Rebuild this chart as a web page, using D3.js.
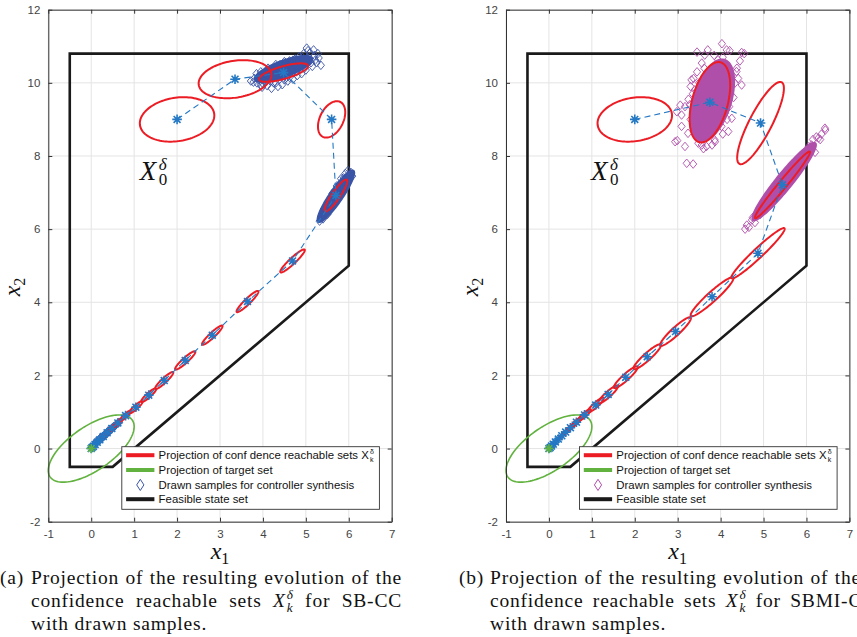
<!DOCTYPE html>
<html>
<head>
<meta charset="utf-8">
<script src="https://cdn.jsdelivr.net/npm/d3@7"></script>
<style>
  body { margin: 0; background: #fff; }
  svg { display: block; }
</style>
</head>
<body>
<svg id="fig" width="857" height="637"></svg>
<script>
// ---------------- data ----------------
const xTicks = [-1, 0, 1, 2, 3, 4, 5, 6, 7];
const yTicks = [-2, 0, 2, 4, 6, 8, 10, 12];

// feasible state set (polygon vertices, x1/x2)
const feasibleSet = [[-0.5, 10.8], [6, 10.8], [6, 5], [0.5, -0.5], [-0.5, -0.5]];
// target set: centre x, centre y, semi-major, semi-minor, angle (deg)
const targetSet = [0, 0, 1.236, 0.564, 41.3];

// SB-CC: nominal states (ellipse centres) and ellipse shapes [semi-major, semi-minor, angle]
const sbccCenters = [
  [2.00, 9.00], [3.35, 10.10], [4.48, 10.28], [5.60, 9.00], [5.70, 6.92], [4.69, 5.13],
  [3.64, 4.02], [2.82, 3.10], [2.19, 2.41], [1.70, 1.86], [1.34, 1.46], [1.04, 1.13],
  [0.80, 0.90], [0.62, 0.70], [0.48, 0.55], [0.37, 0.43], [0.28, 0.33], [0.20, 0.24],
  [0.14, 0.17], [0.09, 0.11], [0.05, 0.06], [0.02, 0.03], [0.00, 0.00]
];
const sbccShapes = [
  [0.88, 0.59, 13], [0.86, 0.50, 12], [0.60, 0.17, 19], [0.52, 0.28, 70], [0.50, 0.10, 60],
  [0.42, 0.075, 48], [0.38, 0.07, 49], [0.35, 0.065, 48], [0.34, 0.065, 47], [0.31, 0.06, 48],
  [0.25, 0.055, 47], [0.22, 0.05, 47], [0.18, 0.045, 48], [0.15, 0.04, 48], [0.12, 0.035, 48],
  [0.10, 0.03, 48], [0.08, 0.03, 48], [0.07, 0.025, 48], [0.06, 0.02, 48], [0.05, 0.02, 48],
  [0.04, 0.02, 48], [0.03, 0.015, 48], [0.02, 0.01, 48]
];
// dense sample regions [cx, cy, a, b, angle]
const sbccCores = [[4.48, 10.38, 0.72, 0.21, 24], [5.70, 6.90, 0.80, 0.15, 60], [0.36, 0.40, 0.50, 0.05, 48]];
const sbccSamples = [
  [3.72, 10.05], [3.80, 10.12], [3.86, 10.00], [3.92, 10.18], [3.95, 9.95], [4.02, 10.08],
  [4.05, 10.25], [4.10, 9.92], [4.15, 10.30], [4.20, 9.85], [4.25, 10.00], [4.28, 10.42],
  [4.35, 9.90], [4.40, 10.50], [4.45, 9.95], [4.52, 10.55], [4.58, 10.05], [4.62, 10.60],
  [4.70, 10.10], [4.75, 10.65], [4.80, 10.20], [4.85, 10.72], [4.90, 10.25], [4.95, 10.80],
  [5.00, 10.35], [5.05, 10.88], [5.10, 10.60], [5.15, 10.45], [5.20, 10.75], [5.25, 10.55],
  [5.30, 10.68], [5.35, 10.48], [5.02, 10.95], [4.55, 10.15], [4.30, 10.20], [3.98, 9.88],
  [4.12, 10.40], [4.68, 10.38], [5.18, 10.90], [4.88, 10.50],
  [3.78, 10.02], [3.90, 10.08], [4.00, 9.98], [4.18, 10.05], [4.30, 10.00], [4.50, 10.08],
  [4.62, 10.15], [4.78, 10.30], [4.98, 10.42], [5.12, 10.55], [5.22, 10.62], [5.28, 10.80],
  [5.10, 10.82], [4.92, 10.70], [4.70, 10.62], [4.50, 10.58], [4.30, 10.50], [4.10, 10.35],
  [3.85, 10.25], [3.95, 10.30],
  [5.32, 6.22], [5.36, 6.35], [5.40, 6.28], [5.45, 6.45], [5.42, 6.55], [5.50, 6.40],
  [5.55, 6.62], [5.52, 6.75], [5.60, 6.58], [5.65, 6.85], [5.62, 6.98], [5.70, 6.75],
  [5.75, 7.05], [5.72, 7.18], [5.80, 6.95], [5.85, 7.25], [5.82, 7.38], [5.90, 7.15],
  [5.95, 7.42], [5.92, 7.52], [6.00, 7.35], [6.05, 7.55], [6.08, 7.45], [5.98, 7.60],
  [5.38, 6.40], [5.48, 6.60], [5.58, 6.80], [5.68, 7.02], [5.78, 7.22], [5.88, 7.40],
  [0.05, 0.08], [0.10, 0.15], [0.15, 0.20], [0.20, 0.27], [0.26, 0.33], [0.33, 0.40],
  [0.40, 0.47], [0.47, 0.55], [0.55, 0.62], [0.62, 0.70], [0.12, 0.20], [0.22, 0.30],
  [0.32, 0.38], [0.42, 0.52], [0.52, 0.60], [0.65, 0.72]
];

// SBMI-CC
const sbmiCenters = [
  [2.00, 9.00], [3.75, 9.47], [4.93, 8.90], [5.44, 7.21], [4.87, 5.34], [3.80, 4.15],
  [2.95, 3.20], [2.29, 2.51], [1.79, 1.95], [1.38, 1.48], [1.09, 1.19], [0.83, 0.92],
  [0.64, 0.72], [0.50, 0.57], [0.39, 0.45], [0.30, 0.35], [0.22, 0.26], [0.15, 0.18],
  [0.10, 0.12], [0.06, 0.07], [0.03, 0.03], [0.00, 0.00]
];
const sbmiShapes = [
  [0.88, 0.59, 13], [1.12, 0.42, 78], [1.22, 0.27, 66.6], [1.11, 0.10, 55], [0.92, 0.12, 48],
  [0.72, 0.12, 47], [0.52, 0.10, 47.7], [0.46, 0.09, 47], [0.40, 0.08, 47], [0.33, 0.07, 47],
  [0.27, 0.06, 47], [0.21, 0.05, 47], [0.17, 0.045, 47], [0.14, 0.04, 47], [0.11, 0.035, 47],
  [0.09, 0.03, 47], [0.07, 0.025, 47], [0.06, 0.02, 47], [0.05, 0.02, 47], [0.04, 0.02, 47],
  [0.03, 0.015, 47], [0.02, 0.01, 47]
];
const sbmiCores = [[3.80, 9.52, 1.14, 0.44, 76], [5.48, 7.30, 1.27, 0.19, 55.6]];
const sbmiSamples = [
  [4.03, 11.07], [4.14, 10.90], [4.21, 10.88], [4.49, 10.83], [4.55, 10.80], [3.45, 10.84],
  [3.63, 10.76], [3.56, 10.54], [3.94, 10.63], [4.38, 10.40], [4.41, 10.12], [4.37, 10.31],
  [4.33, 9.99], [4.49, 9.94], [3.37, 10.12], [3.32, 10.08], [3.40, 9.81], [3.35, 9.70],
  [3.17, 9.35], [3.06, 9.39], [3.09, 9.12], [2.98, 9.21], [3.09, 8.81], [3.24, 8.62],
  [2.94, 8.39], [2.99, 8.42], [3.17, 8.26], [3.21, 7.80], [3.36, 7.78], [3.48, 8.35],
  [3.56, 8.30], [3.67, 8.26], [3.87, 8.39], [3.86, 8.44], [4.02, 8.81], [4.10, 9.17],
  [4.18, 8.67], [4.26, 9.03], [4.30, 9.60], [4.25, 10.20], [3.30, 9.00], [3.25, 9.55],
  [4.45, 10.60], [3.70, 10.90],
  [3.30, 9.90], [3.28, 9.40], [3.35, 8.90], [3.42, 8.55], [3.60, 8.20], [3.80, 8.30],
  [4.05, 8.60], [4.15, 9.00], [4.20, 9.35], [4.22, 9.80], [4.18, 10.30], [4.05, 10.70],
  [3.85, 10.75], [3.62, 10.40], [3.45, 10.30], [3.50, 10.00],
  [4.57, 6.00], [4.61, 6.11], [4.73, 6.25], [4.66, 6.05], [4.75, 6.32], [4.87, 6.43],
  [4.80, 6.18], [4.95, 6.55], [5.05, 6.62], [4.92, 6.40], [5.15, 6.85], [5.25, 7.00],
  [5.10, 6.70], [5.35, 7.15], [5.45, 7.35], [5.30, 6.95], [5.55, 7.50], [5.65, 7.62],
  [5.50, 7.22], [5.75, 7.80], [5.85, 7.95], [5.70, 7.55], [5.95, 8.10], [6.05, 8.25],
  [5.90, 7.82], [6.12, 8.30], [6.28, 8.49], [6.32, 8.45], [6.23, 8.52], [6.44, 8.71],
  [6.43, 8.76], [6.15, 8.45], [6.20, 8.10], [6.35, 8.60]
];

const legendLabels = [
  'Projection of conf dence reachable sets X',
  'Projection of target set',
  'Drawn samples for controller synthesis',
  'Feasible state set'
];

// ---------------- styles ----------------
const C = {
  red: '#EC1C24', green: '#62B23F', black: '#1A1A1A', traj: '#2478C4',
  blue: '#3A54A6', magenta: '#B04FAA', grid: '#E4E4E4', axis: '#333333', tick: '#444444'
};
const sansFont = '"Liberation Sans", Arial, Helvetica, sans-serif';
const serifFont = '"Liberation Serif", "Times New Roman", serif';

const svg = d3.select('#fig');
svg.append('rect').attr('width', 857).attr('height', 637).attr('fill', '#fff');

function ellipsePts(cx, cy, a, b, deg) {
  const th = deg * Math.PI / 180, pts = [];
  for (let i = 0; i < 120; i++) {
    const t = 2 * Math.PI * i / 120;
    pts.push([
      cx + a * Math.cos(th) * Math.cos(t) - b * Math.sin(th) * Math.sin(t),
      cy + a * Math.sin(th) * Math.cos(t) + b * Math.cos(th) * Math.sin(t)
    ]);
  }
  return pts;
}

function starPath(r) {
  const d = r * 0.72;
  return `M${-r},0H${r}M0,${-r}V${r}M${-d},${-d}L${d},${d}M${-d},${d}L${d},${-d}`;
}

function drawPanel(cfg) {
  const x = d3.scaleLinear().domain([-1, 7]).range([cfg.left, cfg.left + 343.4]);
  const y = d3.scaleLinear().domain([-2, 12]).range([521.7, 9.7]);
  const g = svg.append('g');
  const path = d3.line().x(d => x(d[0])).y(d => y(d[1]));
  const closed = d3.line().x(d => x(d[0])).y(d => y(d[1])).curve(d3.curveLinearClosed);

  // grid
  g.append('g').selectAll('line').data(xTicks).join('line')
    .attr('x1', d => x(d)).attr('x2', d => x(d)).attr('y1', y(-2)).attr('y2', y(12))
    .attr('stroke', C.grid).attr('stroke-width', 1);
  g.append('g').selectAll('line').data(yTicks).join('line')
    .attr('y1', d => y(d)).attr('y2', d => y(d)).attr('x1', x(-1)).attr('x2', x(7))
    .attr('stroke', C.grid).attr('stroke-width', 1);

  const plot = g.append('g');

  // feasible state set
  plot.append('path').attr('d', closed(feasibleSet))
    .attr('fill', 'none').attr('stroke', C.black).attr('stroke-width', 2.6);

  // target set
  plot.append('path').attr('d', closed(ellipsePts(...targetSet)))
    .attr('fill', 'none').attr('stroke', C.green).attr('stroke-width', 1.6);

  // drawn samples: dense regions then individual diamonds
  plot.append('g').selectAll('path').data(cfg.cores).join('path')
    .attr('d', c => closed(ellipsePts(...c)))
    .attr('fill', cfg.sampleColor).attr('stroke', cfg.sampleColor).attr('stroke-width', 2.5);
  plot.append('g').selectAll('path').data(cfg.samples).join('path')
    .attr('transform', d => `translate(${x(d[0])},${y(d[1])})`)
    .attr('d', 'M0,-4.3L3.6,0L0,4.3L-3.6,0Z')
    .attr('fill', 'none').attr('stroke', cfg.sampleColor).attr('stroke-width', 0.9);

  // confidence reachable sets
  plot.append('g').selectAll('path').data(cfg.centers).join('path')
    .attr('d', (c, i) => closed(ellipsePts(c[0], c[1], ...cfg.shapes[i])))
    .attr('fill', 'none').attr('stroke', C.red).attr('stroke-width', 2);

  // nominal trajectory
  plot.append('path').attr('d', path(cfg.centers))
    .attr('fill', 'none').attr('stroke', C.traj).attr('stroke-width', 1.1)
    .attr('stroke-dasharray', '6,4');
  plot.append('g').selectAll('path').data(cfg.centers).join('path')
    .attr('transform', d => `translate(${x(d[0])},${y(d[1])})`)
    .attr('d', starPath(4.8))
    .attr('fill', 'none').attr('stroke', C.traj).attr('stroke-width', 1.6);
  plot.append('path')
    .attr('transform', `translate(${x(targetSet[0])},${y(targetSet[1])})`)
    .attr('d', starPath(4.5)).attr('fill', 'none').attr('stroke', C.green).attr('stroke-width', 1.5);

  // X0^delta label
  const lab = g.append('g').attr('transform', `translate(${x(cfg.x0Label[0])},${y(cfg.x0Label[1])})`);
  lab.append('text').attr('font-family', serifFont).attr('font-style', 'italic')
    .attr('font-size', 27).attr('fill', '#111').text('X');
  lab.append('text').attr('x', 19).attr('y', -10).attr('font-family', serifFont)
    .attr('font-style', 'italic').attr('font-size', 17).attr('fill', '#111').text('δ');
  lab.append('text').attr('x', 19).attr('y', 5).attr('font-family', serifFont)
    .attr('font-size', 17).attr('fill', '#111').text('0');

  // axes (ticks pointing inward, box on)
  const fmt = d => String(d);
  const styleAxis = sel => {
    sel.select('.domain').attr('stroke', C.axis).attr('stroke-width', 1);
    sel.selectAll('.tick line').attr('stroke', C.axis);
    sel.selectAll('.tick text').attr('fill', C.tick).attr('font-family', sansFont).attr('font-size', 11.5);
  };
  g.append('g').attr('transform', `translate(0,${y(-2)})`)
    .call(d3.axisBottom(x).tickValues(xTicks).tickFormat(fmt).tickSizeInner(-4).tickSizeOuter(0).tickPadding(8))
    .call(styleAxis);
  g.append('g').attr('transform', `translate(0,${y(12)})`)
    .call(d3.axisTop(x).tickValues(xTicks).tickFormat('').tickSizeInner(-4).tickSizeOuter(0))
    .call(styleAxis);
  g.append('g').attr('transform', `translate(${x(-1)},0)`)
    .call(d3.axisLeft(y).tickValues(yTicks).tickFormat(fmt).tickSizeInner(-4).tickSizeOuter(0).tickPadding(8))
    .call(styleAxis);
  g.append('g').attr('transform', `translate(${x(7)},0)`)
    .call(d3.axisRight(y).tickValues(yTicks).tickFormat('').tickSizeInner(-4).tickSizeOuter(0))
    .call(styleAxis);
  g.selectAll('.domain').attr('fill', 'none');

  // axis titles
  const xl = g.append('text').attr('x', (x(-1) + x(7)) / 2).attr('y', 559)
    .attr('text-anchor', 'middle').attr('font-family', serifFont).attr('fill', '#111');
  xl.append('tspan').attr('font-style', 'italic').attr('font-size', 24).text('x');
  xl.append('tspan').attr('font-size', 16).attr('dy', 5).text('1');
  const yl = g.append('text').attr('transform', `translate(${x(-1) - 28},287) rotate(-90)`)
    .attr('text-anchor', 'middle').attr('font-family', serifFont).attr('fill', '#111');
  yl.append('tspan').attr('font-style', 'italic').attr('font-size', 24).text('x');
  yl.append('tspan').attr('font-size', 16).attr('dy', 5).text('2');

  // legend
  const lg = g.append('g').attr('transform', `translate(${x(-1) + 73.5},446.7)`);
  lg.append('rect').attr('width', 257.6).attr('height', 62.6)
    .attr('fill', '#fff').attr('stroke', '#333').attr('stroke-width', 0.9);
  const rowY = [8.5, 23.3, 38.2, 52.5];
  const swatch = [C.red, C.green, null, C.black];
  legendLabels.forEach((txt, i) => {
    if (swatch[i]) {
      lg.append('line').attr('x1', 4.3).attr('x2', 32.6).attr('y1', rowY[i]).attr('y2', rowY[i])
        .attr('stroke', swatch[i]).attr('stroke-width', 4);
    } else {
      lg.append('path').attr('transform', `translate(18.5,${rowY[i]})`)
        .attr('d', 'M0,-5.6L3.6,0L0,5.6L-3.6,0Z')
        .attr('fill', 'none').attr('stroke', cfg.sampleColor).attr('stroke-width', 1);
    }
    const t = lg.append('text').attr('x', 36.8).attr('y', rowY[i] + 4)
      .attr('font-family', sansFont).attr('font-size', 11.4).attr('fill', '#111').text(txt);
    if (i === 0) {
      const w = t.node().getComputedTextLength();
      lg.append('text').attr('x', 36.8 + w + 1.2).attr('y', rowY[i] - 1.5)
        .attr('font-family', sansFont).attr('font-size', 7).attr('fill', '#111').text('δ');
      lg.append('text').attr('x', 36.8 + w + 1.2).attr('y', rowY[i] + 7)
        .attr('font-family', sansFont).attr('font-size', 7).attr('fill', '#111').text('k');
    }
  });
}

drawPanel({
  left: 48.3, centers: sbccCenters, shapes: sbccShapes, cores: sbccCores,
  samples: sbccSamples, sampleColor: C.blue, x0Label: [1.13, 7.34]
});
drawPanel({
  left: 506, centers: sbmiCenters, shapes: sbmiShapes, cores: sbmiCores,
  samples: sbmiSamples, sampleColor: C.magenta, x0Label: [0.98, 7.34]
});

// ---------------- captions ----------------
const FS = 19.5, LS = 0.8;
function txt(parent, s, size, italic) {
  return parent.append('text').attr('font-family', serifFont).attr('font-size', size)
    .attr('font-style', italic ? 'italic' : 'normal').attr('letter-spacing', LS)
    .attr('fill', '#111').text(s);
}
function makeToken(parent, tok) {
  const g = parent.append('g');
  if (typeof tok === 'string') {
    const t = txt(g, tok, FS, false);
    return { g, w: t.node().getComputedTextLength() };
  }
  const t = txt(g, tok.base, FS, true);
  const w0 = t.node().getComputedTextLength() + 1;
  const sup = txt(g, tok.sup, FS * 0.68, true).attr('x', w0).attr('y', -8);
  const sub = txt(g, tok.sub, FS * 0.68, true).attr('x', w0).attr('y', 5);
  return { g, w: w0 + Math.max(sup.node().getComputedTextLength(), sub.node().getComputedTextLength()) };
}
const probeA = txt(svg, 'a a', FS, false), probeB = txt(svg, 'aa', FS, false);
const spaceW = probeA.node().getComputedTextLength() - probeB.node().getComputedTextLength();
probeA.remove(); probeB.remove();

function captionLine(x, y, tokens, width) {
  const line = svg.append('g').attr('transform', `translate(${x},${y})`);
  const made = tokens.map(t => makeToken(line, t));
  const total = d3.sum(made, m => m.w);
  const gap = width ? (width - total) / (made.length - 1) : spaceW;
  let cx = 0;
  made.forEach(m => { m.g.attr('transform', `translate(${cx},0)`); cx += m.w + gap; });
}
const Xk = { base: 'X', sup: 'δ', sub: 'k' };
const line1 = 'Projection of the resulting evolution of the'.split(' ');
const line3 = 'with drawn samples.'.split(' ');

function caption(x0, label, line2, w1, w2) {
  captionLine(x0, 584, [label], null);
  captionLine(x0 + 31, 584, line1, w1);
  captionLine(x0 + 31, 607, line2, w2);
  captionLine(x0 + 31, 630, line3, null);
}
caption(0, '(a)', ['confidence', 'reachable', 'sets', Xk, 'for', 'SB-CC'], 371, 371);
caption(459, '(b)', ['confidence', 'reachable', 'sets', Xk, 'for', 'SBMI-CC'], 371, 386);
</script>
</body>
</html>
